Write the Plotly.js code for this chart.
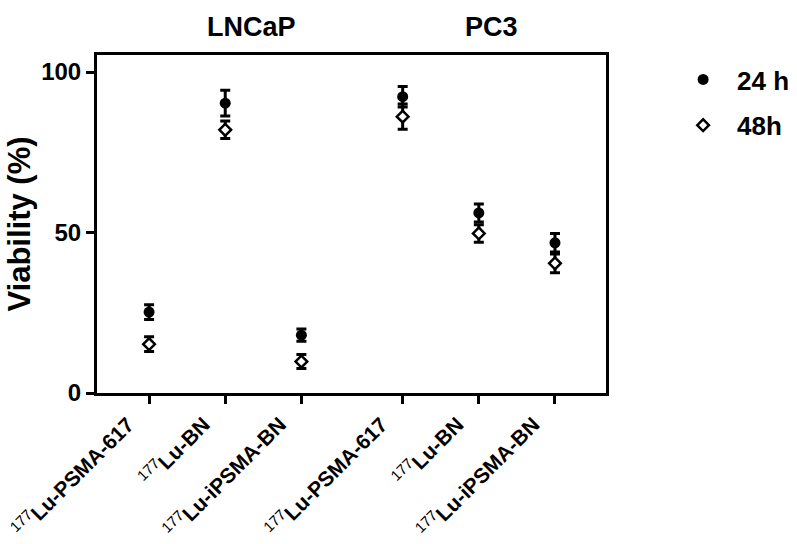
<!DOCTYPE html>
<html>
<head>
<meta charset="utf-8">
<script src="https://cdn.plot.ly/plotly-3.0.1.min.js"></script>
<style>html,body{margin:0;padding:0;background:#fff;}#chart{width:797px;height:544px;}</style>
</head>
<body>
<div id="chart"></div>
<script>
// ---- data ----
const groups = ["LNCaP", "PC3"];
const compounds = ["Lu-PSMA-617", "Lu-BN", "Lu-iPSMA-BN"];
const isotope = "177";
const tickNames = ["Lu-PSMA-617", "Lu-BN", "Lu-iPSMA-BN", "Lu-PSMA-617", "Lu-BN", "Lu-iPSMA-BN"];
const viability24h = [25.2, 90.3, 18.0, 92.3, 56.1, 46.8];
const error24h     = [2.3, 4.0, 1.9, 3.2, 2.8, 2.9];
const viability48h = [15.2, 82.0, 9.8, 86.1, 49.7, 40.4];
const error48h     = [2.3, 2.7, 2.2, 3.9, 2.7, 2.9];
const seriesNames = ["24 h", "48h"];

// ---- layout helpers: category positions with a gap between cell lines ----
const groupGap = 1.33;
const xPos = [];
groups.forEach((g, gi) => compounds.forEach((c, ci) => xPos.push(gi * (compounds.length - 1 + groupGap) + ci)));
const labelOffset = 0.28; // rotated labels sit slightly left of their tick
const tickLabels = tickNames.map(n => `<sup><span style="font-weight:normal">${isotope}</span></sup>${n}`);

const font = "Liberation Sans, Arial, sans-serif";
const errStyle = (arr) => ({type: "data", array: arr, visible: true, color: "#000", thickness: 3, width: 5});

const traces = [
  {
    x: xPos, y: viability24h, name: seriesNames[0], type: "scatter", mode: "markers", legendgroup: "a",
    marker: {symbol: "circle", size: 11, color: "#000"},
    error_y: errStyle(error24h)
  },
  {
    x: xPos, y: viability48h, name: seriesNames[1], type: "scatter", mode: "markers", legendgroup: "b",
    marker: {symbol: "diamond", size: 9, color: "#fff", line: {color: "#000", width: 2.5}},
    error_y: errStyle(error48h)
  },
  // invisible carrier so the label axis is drawn
  {x: [xPos[0]], y: [0], xaxis: "x2", yaxis: "y", type: "scatter", mode: "markers",
   marker: {opacity: 0}, showlegend: false, hoverinfo: "skip"}
];

const xRange = [-0.684, 6.0];
const layout = {
  width: 797, height: 544,
  margin: {l: 97, r: 191, t: 55, b: 151, autoexpand: false},
  paper_bgcolor: "#fff", plot_bgcolor: "#fff",
  font: {family: font, color: "#000"},
  showlegend: true,
  legend: {x: 1.124, y: 0.997, xanchor: "left", yanchor: "top", itemwidth: 58,
           font: {family: font, size: 26, weight: "bold"}, tracegroupgap: 9},
  xaxis: {
    range: xRange, tickvals: xPos, showticklabels: false,
    showgrid: false, zeroline: false, showline: true, linecolor: "#000", linewidth: 3, mirror: true,
    ticks: "outside", ticklen: 8, tickwidth: 3, tickcolor: "#000"
  },
  xaxis2: {
    overlaying: "x", anchor: "y", side: "bottom", range: xRange,
    tickvals: xPos.map(v => v - labelOffset), ticktext: tickLabels, tickangle: -45,
    showgrid: false, zeroline: false, showline: false,
    ticks: "outside", ticklen: 10, tickcolor: "rgba(0,0,0,0)",
    tickfont: {family: font, size: 21, weight: "bold"}
  },
  yaxis: {
    range: [0, 105.3], tickvals: [0, 50, 100],
    showgrid: false, zeroline: false, showline: true, linecolor: "#000", linewidth: 3, mirror: true,
    ticks: "outside", ticklen: 8, tickwidth: 3, tickcolor: "#000",
    tickfont: {family: font, size: 24, weight: "bold"},
    title: {text: "Viability (%)", font: {family: font, size: 31, weight: "bold"}, standoff: 2}
  },
  annotations: groups.map((g, gi) => ({
    text: g, xref: "paper", yref: "paper",
    x: [0.3045, 0.775][gi], y: 1, yshift: 28, xanchor: "center", yanchor: "middle",
    showarrow: false, font: {family: font, size: 27, weight: "bold"}
  }))
};

Plotly.newPlot("chart", traces, layout, {displayModeBar: false, staticPlot: true});
</script>
</body>
</html>
